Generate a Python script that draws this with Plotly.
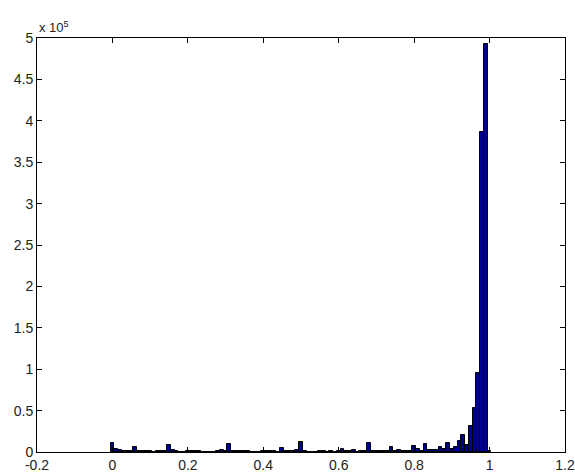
import plotly.graph_objects as go

# Histogram bin centers (0.00 .. 1.00 step 0.01) and counts
bin_centers = [round(i * 0.01, 2) for i in range(101)]
counts_thousands = [
    10.5, 4, 3, 1, 1, 1, 5.6, 1, 1, 1,
    1, 0, 1, 1, 1.5, 8.9, 3, 1, 0, 0.5,
    1, 1, 1, 1, 0, 0, 0.5, 0.5, 1, 3,
    1, 9.7, 1.5, 1, 1, 1, 1, 0, 0, 0,
    0.8, 1, 1, 0.8, 0, 4.8, 1, 1, 1, 2,
    11.5, 1, 0, 0, 0, 1.2, 1.2, 0, 1.3, 0,
    1.5, 4, 1.5, 1, 3, 0, 1, 1, 10.5, 1,
    1, 1, 1, 1, 5.5, 1, 2, 1, 1, 1,
    7, 3.5, 1, 10, 2.5, 2.5, 3, 5.5, 4, 11,
    4, 6.5, 13.7, 20, 8.5, 32, 53.5, 95, 387, 493,
    1,
]
counts = [v * 1000 for v in counts_thousands]

x_ticks = [-0.2, 0, 0.2, 0.4, 0.6, 0.8, 1, 1.2]
x_ticklabels = ["-0.2", "0", "0.2", "0.4", "0.6", "0.8", "1", "1.2"]
y_ticks = [0, 50000, 100000, 150000, 200000, 250000, 300000, 350000, 400000, 450000, 500000]
y_ticklabels = ["0", "0.5", "1", "1.5", "2", "2.5", "3", "3.5", "4", "4.5", "5"]

fig = go.Figure()
fig.add_trace(go.Bar(
    x=bin_centers,
    y=counts,
    width=0.01,
    marker=dict(color="rgb(0,0,143)", line=dict(color="black", width=1)),
))

font = dict(family="Liberation Sans, Arial, sans-serif", size=14, color="#222")

fig.update_layout(
    width=575,
    height=472,
    margin=dict(l=37, r=10, t=38, b=20, autoexpand=False),
    paper_bgcolor="white",
    plot_bgcolor="white",
    showlegend=False,
    font=font,
    bargap=0,
)
common = dict(
    ticks="inside",
    ticklen=5,
    tickcolor="black",
    showline=True,
    linecolor="black",
    linewidth=1,
    mirror="allticks",
    showgrid=False,
    zeroline=False,
    tickfont=font,
    automargin=False,
)
fig.update_xaxes(range=[-0.2, 1.2], tickvals=x_ticks, ticktext=x_ticklabels,
                 ticklabelstandoff=0, ticklabeloverflow="allow", **common)
fig.update_yaxes(range=[0, 500000], tickvals=y_ticks, ticktext=y_ticklabels,
                 ticklabelstandoff=0, **common)
fig.add_annotation(
    text="x 10<sup>5</sup>",
    xref="paper", yref="paper",
    x=0, y=1.003,
    xanchor="left", yanchor="bottom",
    showarrow=False,
    font=dict(family="Liberation Sans, Arial, sans-serif", size=13, color="#222"),
)

# remove the default 8px page margin so the figure fills the window exactly
fig.write_html(
    "out.html",
    config={"displayModeBar": False},
    post_script="document.body.style.margin='0';document.body.style.overflow='hidden';",
)
